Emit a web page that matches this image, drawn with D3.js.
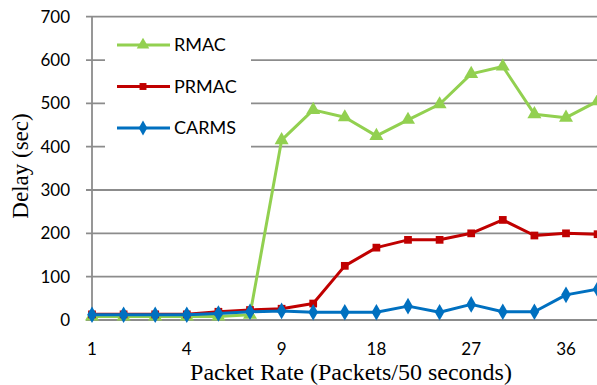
<!DOCTYPE html>
<html><head><meta charset="utf-8">
<script src="https://cdn.jsdelivr.net/npm/d3@7"></script>
<style>html,body{margin:0;padding:0;background:#fff;overflow:hidden}</style>
</head><body><svg id="c" width="597" height="385"></svg>
<script>
const categories = [1,2,3,4,5,7,9,12,15,18,21,24,27,30,33,36,39];
const tickLabels = [1,4,9,18,27,36];
const rmac  = [8,8,8,8,8,12,415,485,468,425,462,498,568,585,475,467,505];
const prmac = [13,13,13,13,19,23,26,38,125,167,185,185,200,231,195,200,198];
const carms = [12,12,12,12,15,19,21,18,18,18,32,18,36,19,19,58,71];
const yTicks = [0,100,200,300,400,500,600,700];

const svg = d3.select("#c");
const L = 92, R = 597.6, T = 16.7, B = 320;
const x = d3.scalePoint().domain(categories).range([L, R]);
const y = d3.scaleLinear().domain([0,700]).range([B, T]);
const grid = "#8c8c8c";

svg.append("g").selectAll("line").data(yTicks).join("line")
  .attr("x1", L-6).attr("x2", 597).attr("y1", d=>y(d)).attr("y2", d=>y(d))
  .attr("stroke", grid).attr("stroke-width", 1.8);
svg.append("line").attr("x1", L).attr("x2", L).attr("y1", T).attr("y2", B)
  .attr("stroke", grid).attr("stroke-width", 1.8);

const sans = "Lato, 'Open Sans', sans-serif";
const serif = "'Liberation Serif', 'DejaVu Serif', serif";
svg.append("g").selectAll("text").data(yTicks).join("text")
  .attr("x", 70).attr("y", d=>y(d)).attr("dy", "0.36em").attr("text-anchor","end")
  .attr("font-family", sans).attr("font-size", 17).attr("fill","#000").text(d=>d);
svg.append("g").selectAll("text").data(tickLabels).join("text")
  .attr("x", d=>x(d)).attr("y", 355).attr("text-anchor","middle")
  .attr("font-family", sans).attr("font-size", 17).attr("fill","#000").text(d=>d);

svg.append("text").attr("x", 351).attr("y", 380).attr("text-anchor","middle")
  .attr("font-family", serif).attr("font-size", 24).text("Packet Rate (Packets/50 seconds)");
svg.append("text").attr("transform","translate(28,166) rotate(-90)").attr("text-anchor","middle")
  .attr("font-family", serif).attr("font-size", 23).text("Delay (sec)");

const series = [
  {name:"RMAC", vals:rmac, color:"#92D050", shape:d3.symbolTriangle, size:85},
  {name:"PRMAC", vals:prmac, color:"#C00000", shape:d3.symbolSquare, size:60},
  {name:"CARMS", vals:carms, color:"#0070C0", shape:d3.symbolDiamond, size:80}
];
const line = d3.line().x((d,i)=>x(categories[i])).y(d=>y(d));
series.forEach(s=>{
  svg.append("path").attr("d", line(s.vals)).attr("fill","none")
    .attr("stroke", s.color).attr("stroke-width", 3).attr("stroke-linejoin","round");
  svg.append("g").selectAll("path").data(s.vals).join("path")
    .attr("transform",(d,i)=>`translate(${x(categories[i])},${y(d)})`)
    .attr("d", d3.symbol().type(s.shape).size(s.size)).attr("fill", s.color);
});

svg.append("rect").attr("x",105).attr("y",22).attr("width",146).attr("height",128).attr("fill","#fff");
series.forEach((s,i)=>{
  const ly = 45 + i*41.5;
  svg.append("line").attr("x1",117).attr("x2",170).attr("y1",ly).attr("y2",ly)
    .attr("stroke", s.color).attr("stroke-width",3);
  svg.append("path").attr("transform",`translate(143,${ly})`)
    .attr("d", d3.symbol().type(s.shape).size(s.size*0.8)).attr("fill", s.color);
  svg.append("text").attr("x",174).attr("y",ly).attr("dy","0.36em")
    .attr("font-family", sans).attr("font-size",18).text(s.name);
});
</script></body></html>
